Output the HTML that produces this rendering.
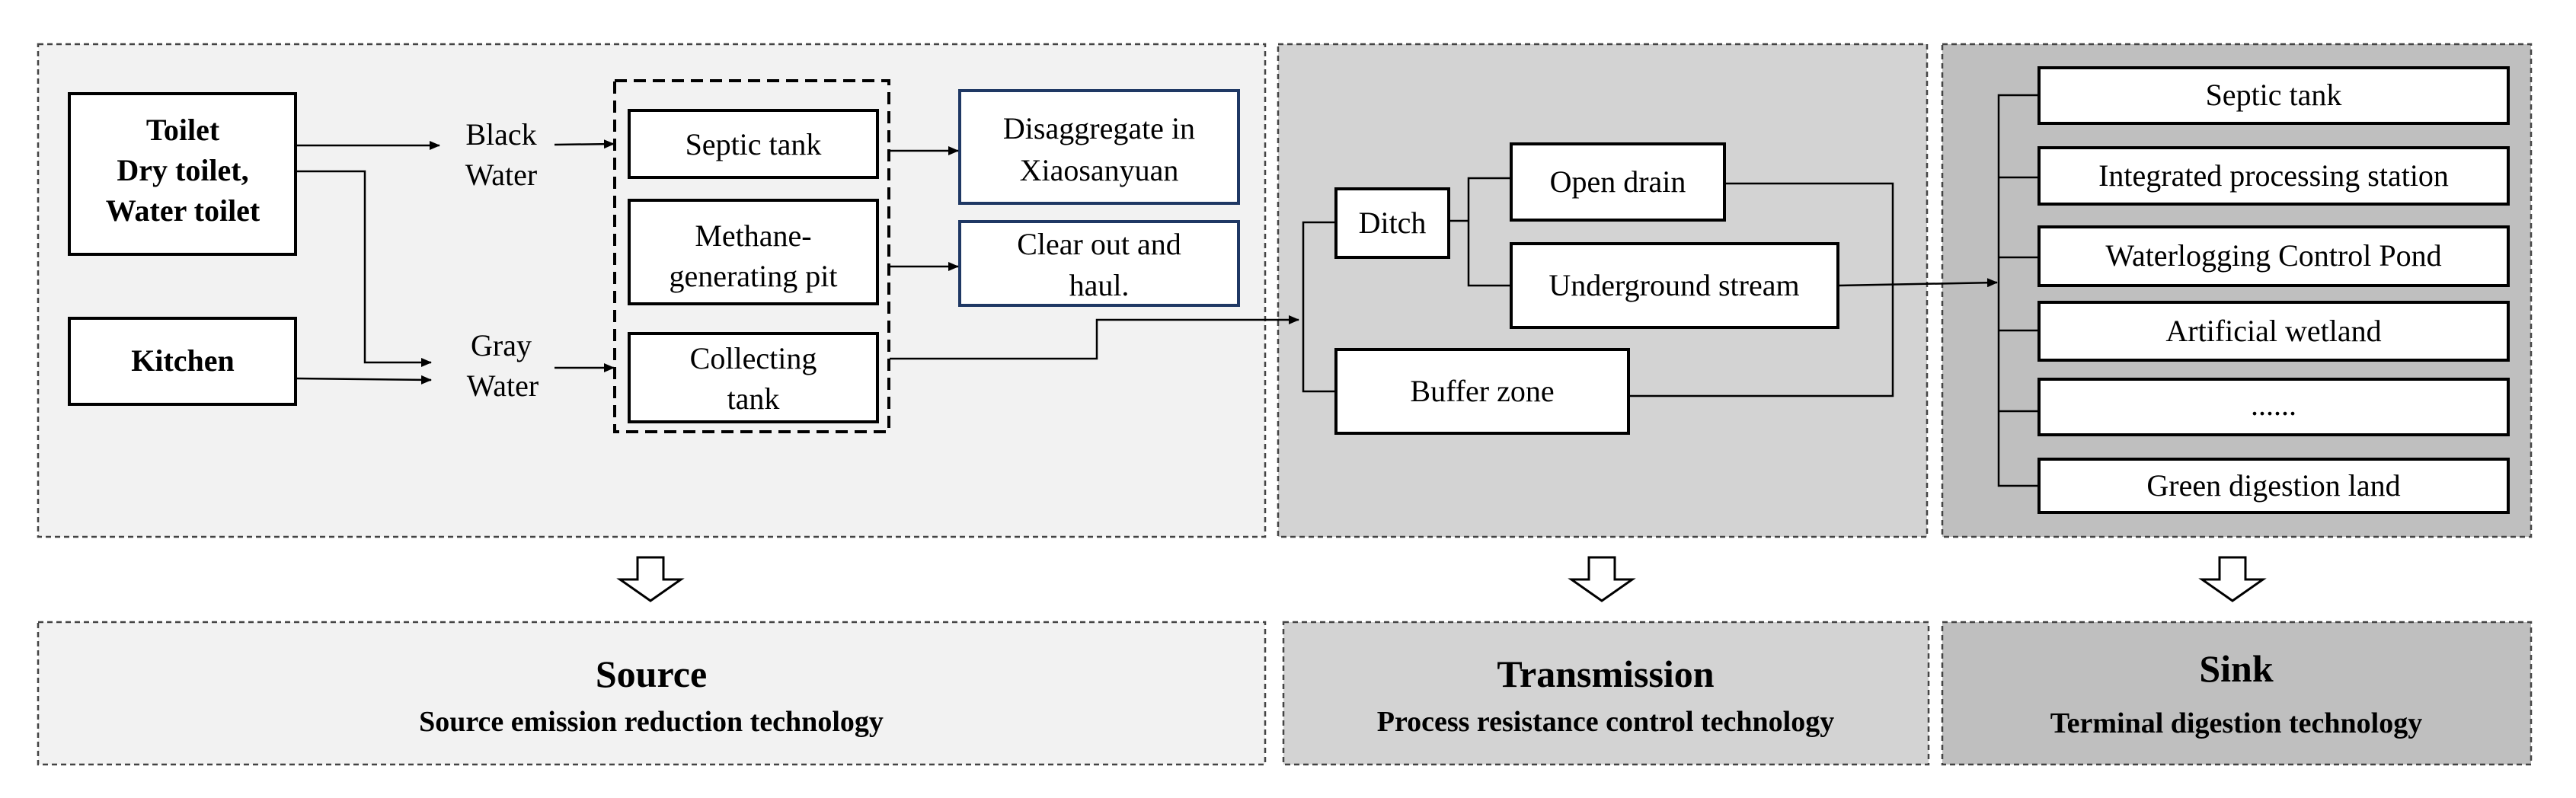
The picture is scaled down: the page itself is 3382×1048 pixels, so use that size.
<!DOCTYPE html>
<html><head><meta charset="utf-8"><style>
html,body{margin:0;padding:0;background:#fff}
svg{display:block}
svg, svg text{font-family:"Liberation Serif","Times New Roman",Times,serif !important;fill:#000}
</style></head><body>
<svg width="3382" height="1048" viewBox="0 0 3382 1048" xmlns="http://www.w3.org/2000/svg" font-family="Liberation Serif, Times New Roman, serif">
<defs>
<marker id="ar" markerWidth="14" markerHeight="12" refX="13" refY="6" orient="auto" markerUnits="userSpaceOnUse">
<path d="M0,0 L14,6 L0,12 z" fill="#000"/></marker>
</defs>
<rect x="50" y="58" width="1611" height="647" fill="#f2f2f2" stroke="#444" stroke-width="2.5" stroke-dasharray="7,5"/>
<rect x="1678" y="58" width="852" height="647" fill="#d3d3d3" stroke="#444" stroke-width="2.5" stroke-dasharray="7,5"/>
<rect x="2550" y="58" width="773" height="647" fill="#bfbfbf" stroke="#444" stroke-width="2.5" stroke-dasharray="7,5"/>
<rect x="50" y="817" width="1611" height="187" fill="#f2f2f2" stroke="#444" stroke-width="2.5" stroke-dasharray="7,5"/>
<rect x="1685" y="817" width="847" height="187" fill="#d3d3d3" stroke="#444" stroke-width="2.5" stroke-dasharray="7,5"/>
<rect x="2550" y="817" width="773" height="187" fill="#bfbfbf" stroke="#444" stroke-width="2.5" stroke-dasharray="7,5"/>
<g fill="#fff" stroke="#000" stroke-width="3">
<path d="M837,732 h34 v29 h23 l-40,28 l-40,-28 h23 z"/>
<path d="M2086,732 h34 v29 h23 l-40,28 l-40,-28 h23 z"/>
<path d="M2914,732 h34 v29 h23 l-40,28 l-40,-28 h23 z"/>
</g>
<g font-weight="bold" text-anchor="middle">
<text x="855" y="902" font-size="50">Source</text>
<text x="855" y="960" font-size="38">Source emission reduction technology</text>
<text x="2108" y="902" font-size="50">Transmission</text>
<text x="2108" y="960" font-size="38">Process resistance control technology</text>
<text x="2936" y="895" font-size="50">Sink</text>
<text x="2936" y="962" font-size="38">Terminal digestion technology</text>
</g>
<g fill="#fff" stroke="#000" stroke-width="4">
<rect x="91" y="123" width="297" height="211"/>
<rect x="91" y="418" width="297" height="113"/>
<rect x="826" y="145" width="326" height="88"/>
<rect x="826" y="263" width="326" height="136"/>
<rect x="826" y="438" width="326" height="116"/>
</g>
<rect x="807" y="106" width="360" height="461" fill="none" stroke="#000" stroke-width="4" stroke-dasharray="16,9"/>
<g fill="#fff" stroke="#1f3864" stroke-width="4">
<rect x="1260" y="119" width="366" height="148"/>
<rect x="1260" y="291" width="366" height="110"/>
</g>
<g font-weight="bold" text-anchor="middle" font-size="40">
<text x="240" y="184">Toilet</text>
<text x="240" y="237">Dry toilet,</text>
<text x="240" y="290">Water toilet</text>
<text x="240" y="487">Kitchen</text>
</g>
<g text-anchor="middle" font-size="40">
<text x="658" y="190">Black</text>
<text x="658" y="243">Water</text>
<text x="658" y="467">Gray</text>
<text x="660" y="520">Water</text>
<text x="989" y="203">Septic tank</text>
<text x="989" y="323">Methane-</text>
<text x="989" y="376">generating pit</text>
<text x="989" y="484">Collecting</text>
<text x="989" y="537">tank</text>
<text x="1443" y="182">Disaggregate in</text>
<text x="1443" y="237">Xiaosanyuan</text>
<text x="1443" y="334">Clear out and</text>
<text x="1443" y="388">haul.</text>
</g>
<g fill="none" stroke="#000" stroke-width="2.5" marker-end="url(#ar)">
<path d="M388,191 H577"/>
<path d="M388,225 H479 V476 H566"/>
<path d="M388,497 L566,499"/>
<path d="M728,190 L806,189"/>
<path d="M728,483 H806"/>
<path d="M1168,198 H1258"/>
<path d="M1168,350 H1258"/>
<path d="M1168,471 H1440 V420 H1705"/>
</g>
<g fill="#fff" stroke="#000" stroke-width="4">
<rect x="1754" y="248" width="148" height="90"/>
<rect x="1984" y="189" width="280" height="100"/>
<rect x="1984" y="320" width="429" height="110"/>
<rect x="1754" y="459" width="384" height="110"/>
</g>
<g text-anchor="middle" font-size="40">
<text x="1828" y="306">Ditch</text>
<text x="2124" y="252">Open drain</text>
<text x="2198" y="388">Underground stream</text>
<text x="1946" y="527">Buffer zone</text>
</g>
<g fill="none" stroke="#000" stroke-width="2.5">
<path d="M1754,292 H1711 V514 H1754"/>
<path d="M1902,290 H1928"/>
<path d="M1984,234 H1928 V375 H1984"/>
<path d="M2264,241 H2485 V520 H2138"/>
<path d="M2413,375 L2622,371" marker-end="url(#ar)"/>
<path d="M2677,125 H2624 V638 H2677"/>
<path d="M2624,233 H2677 M2624,338 H2677 M2624,434 H2677 M2624,540 H2677"/>
</g>
<g fill="#fff" stroke="#000" stroke-width="4">
<rect x="2677" y="89" width="616" height="73"/>
<rect x="2677" y="194" width="616" height="74"/>
<rect x="2677" y="298" width="616" height="77"/>
<rect x="2677" y="397" width="616" height="76"/>
<rect x="2677" y="498" width="616" height="73"/>
<rect x="2677" y="603" width="616" height="70"/>
</g>
<g text-anchor="middle" font-size="40">
<text x="2985" y="138">Septic tank</text>
<text x="2985" y="244">Integrated processing station</text>
<text x="2985" y="349">Waterlogging Control Pond</text>
<text x="2985" y="448">Artificial wetland</text>
<text x="2985" y="545">......</text>
<text x="2985" y="651">Green digestion land</text>
</g>
</svg>
</body></html>
